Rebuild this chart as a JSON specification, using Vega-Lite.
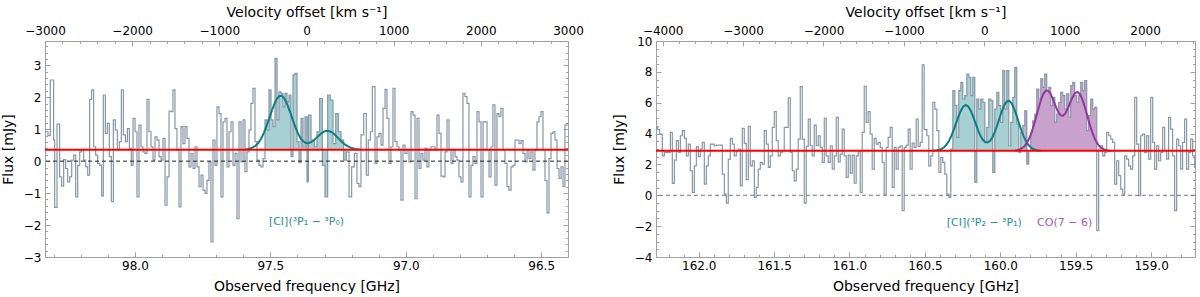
{
"$schema": "https://vega.github.io/schema/vega-lite/v6.json",
"autosize": {"type": "pad"},
"padding": {"left": 1, "top": 5, "right": 2, "bottom": 2},
"background": "white",
"bounds": "flush",
"spacing": 88,
"config": {
  "font": "DejaVu Sans",
  "view": {"stroke": null},
  "axis": {"labelFont": "DejaVu Sans", "labelFontSize": 12, "labelColor": "#000000", "titleFont": "DejaVu Sans", "titleFontSize": 14, "titleFontWeight": "normal", "titleColor": "#000000", "domainColor": "#a0a0a0", "tickColor": "#a0a0a0", "grid": false, "labelOverlap": false, "labelFlush": false, "labelBound": false}
},
"datasets": {
"specL": [
{"v":-3000,"s":0.92},{"v":-2966,"s":0.8},{"v":-2939,"s":2.54},{"v":-2901,"s":0.66},{"v":-2889,"s":-1.45},{"v":-2862,"s":1.16},{"v":-2832,"s":-0.49},{"v":-2809,"s":-0.78},{"v":-2786,"s":0.05},{"v":-2763,"s":-0.23},{"v":-2740,"s":-0.65},{"v":-2717,"s":-0.49},{"v":-2694,"s":0.03},{"v":-2671,"s":0.19},{"v":-2648,"s":-1.12},{"v":-2625,"s":-0.13},{"v":-2602,"s":0.29},{"v":-2579,"s":0.35},{"v":-2556,"s":0.03},{"v":-2533,"s":-0.18},{"v":-2510,"s":-0.44},{"v":-2488,"s":1.93},{"v":-2465,"s":2.23},{"v":-2442,"s":0.45},{"v":-2419,"s":0.19},{"v":-2396,"s":-0.07},{"v":-2373,"s":-0.13},{"v":-2350,"s":-1.09},{"v":-2331,"s":2.07},{"v":-2308,"s":0.87},{"v":-2285,"s":1.18},{"v":-2262,"s":0.14},{"v":-2239,"s":-1.27},{"v":-2216,"s":1.29},{"v":-2193,"s":0.97},{"v":-2170,"s":0.35},{"v":-2147,"s":0.61},{"v":-2124,"s":2.23},{"v":-2101,"s":0.82},{"v":-2078,"s":0.61},{"v":-2055,"s":1.02},{"v":-2032,"s":0.4},{"v":-2010,"s":-0.13},{"v":-1990,"s":1.34},{"v":-1967,"s":0.92},{"v":-1945,"s":-1.12},{"v":-1922,"s":1.13},{"v":-1899,"s":0.45},{"v":-1876,"s":0.29},{"v":-1853,"s":0.24},{"v":-1830,"s":1.93},{"v":-1807,"s":0.92},{"v":-1784,"s":0.45},{"v":-1761,"s":0.03},{"v":-1738,"s":0.76},{"v":-1715,"s":0.66},{"v":-1692,"s":0.14},{"v":-1669,"s":0.03},{"v":-1646,"s":0.71},{"v":-1623,"s":-1.38},{"v":-1600,"s":-0.49},{"v":-1577,"s":1.57},{"v":-1554,"s":1.55},{"v":-1532,"s":2.23},{"v":-1509,"s":1.02},{"v":-1486,"s":0.35},{"v":-1463,"s":-1.43},{"v":-1440,"s":1.08},{"v":-1417,"s":0.55},{"v":-1394,"s":1.08},{"v":-1371,"s":0.71},{"v":-1348,"s":-0.18},{"v":-1325,"s":0.24},{"v":-1302,"s":-0.23},{"v":-1279,"s":0.45},{"v":-1256,"s":-0.18},{"v":-1233,"s":-0.8},{"v":-1210,"s":-0.44},{"v":-1187,"s":-0.91},{"v":-1164,"s":-1.01},{"v":-1142,"s":-0.6},{"v":-1119,"s":-0.02},{"v":-1096,"s":-2.53},{"v":-1073,"s":0.66},{"v":-1050,"s":-0.13},{"v":-1027,"s":1.7},{"v":-1004,"s":1.49},{"v":-981,"s":-1.12},{"v":-958,"s":1.23},{"v":-935,"s":1.34},{"v":-912,"s":-0.18},{"v":-889,"s":0.92},{"v":-866,"s":1.23},{"v":-843,"s":-0.13},{"v":-820,"s":0.24},{"v":-797,"s":-1.8},{"v":-774,"s":1.23},{"v":-751,"s":-0.02},{"v":-728,"s":1.29},{"v":-706,"s":-0.33},{"v":-683,"s":0.29},{"v":-660,"s":0.97},{"v":-637,"s":1.81},{"v":-614,"s":2.28},{"v":-591,"s":0.61},{"v":-568,"s":0.03},{"v":-545,"s":-0.13},{"v":-522,"s":-0.18},{"v":-499,"s":0.08},{"v":-476,"s":1.29},{"v":-453,"s":0.97},{"v":-430,"s":2.23},{"v":-407,"s":1.29},{"v":-384,"s":1.08},{"v":-361,"s":3.22},{"v":-338,"s":1.29},{"v":-316,"s":2.17},{"v":-293,"s":2.12},{"v":-270,"s":1.7},{"v":-247,"s":2.12},{"v":-224,"s":1.86},{"v":-201,"s":2.07},{"v":-178,"s":0.14},{"v":-155,"s":2.7},{"v":-132,"s":2.75},{"v":-109,"s":0.61},{"v":-86,"s":-0.05},{"v":-63,"s":1.34},{"v":-40,"s":0.45},{"v":-17,"s":1.39},{"v":6,"s":-0.65},{"v":21,"s":1.44},{"v":52,"s":0.66},{"v":90,"s":0.45},{"v":120,"s":0.92},{"v":151,"s":1.96},{"v":182,"s":-0.13},{"v":212,"s":-1.12},{"v":243,"s":2.07},{"v":273,"s":1.91},{"v":304,"s":0.55},{"v":335,"s":1.49},{"v":365,"s":0.92},{"v":396,"s":0.66},{"v":426,"s":0.03},{"v":457,"s":0.29},{"v":488,"s":-1.12},{"v":518,"s":-0.18},{"v":549,"s":0.24},{"v":579,"s":-0.7},{"v":602,"s":-0.8},{"v":625,"s":0.82},{"v":656,"s":1.49},{"v":686,"s":-0.44},{"v":709,"s":0.66},{"v":732,"s":0.92},{"v":755,"s":2.33},{"v":786,"s":-0.07},{"v":809,"s":0.76},{"v":832,"s":0.87},{"v":855,"s":0.5},{"v":878,"s":1.65},{"v":901,"s":2.25},{"v":923,"s":1.34},{"v":946,"s":-0.07},{"v":969,"s":0.45},{"v":992,"s":2.28},{"v":1015,"s":0.61},{"v":1038,"s":0.45},{"v":1061,"s":0.35},{"v":1084,"s":-1.22},{"v":1107,"s":0.5},{"v":1130,"s":0.24},{"v":1153,"s":0.35},{"v":1176,"s":-0.02},{"v":1199,"s":1.55},{"v":1222,"s":1.44},{"v":1245,"s":-1.17},{"v":1268,"s":1.34},{"v":1291,"s":-0.23},{"v":1313,"s":0.24},{"v":1336,"s":0.03},{"v":1359,"s":0.4},{"v":1382,"s":-0.18},{"v":1405,"s":0.35},{"v":1428,"s":0.45},{"v":1451,"s":0.45},{"v":1474,"s":0.35},{"v":1497,"s":1.44},{"v":1520,"s":0.87},{"v":1543,"s":-0.47},{"v":1566,"s":-0.49},{"v":1589,"s":0.29},{"v":1612,"s":1.29},{"v":1635,"s":0.35},{"v":1658,"s":-0.07},{"v":1681,"s":0.35},{"v":1704,"s":0.14},{"v":1726,"s":0.03},{"v":1749,"s":-0.49},{"v":1772,"s":-0.65},{"v":1795,"s":2.12},{"v":1818,"s":2.02},{"v":1841,"s":1.81},{"v":1864,"s":-1.12},{"v":1887,"s":-0.13},{"v":1910,"s":0.14},{"v":1933,"s":-0.07},{"v":1956,"s":1.55},{"v":1979,"s":1.23},{"v":2002,"s":-1.12},{"v":2025,"s":1.23},{"v":2048,"s":1.23},{"v":2071,"s":0.35},{"v":2094,"s":-0.49},{"v":2117,"s":0.45},{"v":2139,"s":1.76},{"v":2162,"s":-0.75},{"v":2185,"s":1.49},{"v":2208,"s":1.39},{"v":2231,"s":1.65},{"v":2254,"s":0.35},{"v":2277,"s":-0.07},{"v":2300,"s":-0.8},{"v":2323,"s":-0.91},{"v":2346,"s":-0.18},{"v":2369,"s":-0.13},{"v":2392,"s":0.66},{"v":2415,"s":0.66},{"v":2438,"s":0.55},{"v":2461,"s":0.64},{"v":2484,"s":0.24},{"v":2507,"s":-0.02},{"v":2530,"s":0.35},{"v":2552,"s":0.08},{"v":2575,"s":0.29},{"v":2598,"s":-0.28},{"v":2621,"s":0.35},{"v":2644,"s":1.23},{"v":2667,"s":1.39},{"v":2690,"s":1.55},{"v":2713,"s":0.35},{"v":2736,"s":-0.6},{"v":2759,"s":-1.62},{"v":2782,"s":0.08},{"v":2805,"s":0.87},{"v":2828,"s":0.92},{"v":2851,"s":0.66},{"v":2874,"s":-0.23},{"v":2897,"s":-0.54},{"v":2920,"s":-0.18},{"v":2943,"s":-0.8},{"v":2965,"s":1.13},{"v":2988,"s":1.18},{"v":3000,"s":1.18}
],
"gL": [
{"v":-700,"g":0.37},{"v":-670,"g":0.381},{"v":-640,"g":0.401},{"v":-610,"g":0.436},{"v":-580,"g":0.493},{"v":-550,"g":0.582},{"v":-520,"g":0.708},{"v":-490,"g":0.877},{"v":-460,"g":1.085},{"v":-430,"g":1.32},{"v":-400,"g":1.562},{"v":-370,"g":1.783},{"v":-340,"g":1.95},{"v":-310,"g":2.04},{"v":-280,"g":2.036},{"v":-250,"g":1.942},{"v":-220,"g":1.77},{"v":-190,"g":1.548},{"v":-160,"g":1.308},{"v":-130,"g":1.078},{"v":-100,"g":0.88},{"v":-70,"g":0.727},{"v":-40,"g":0.626},{"v":-10,"g":0.573},{"v":20,"g":0.564},{"v":50,"g":0.591},{"v":80,"g":0.647},{"v":110,"g":0.72},{"v":140,"g":0.798},{"v":170,"g":0.871},{"v":200,"g":0.924},{"v":230,"g":0.949},{"v":260,"g":0.942},{"v":290,"g":0.903},{"v":320,"g":0.839},{"v":350,"g":0.759},{"v":380,"g":0.674},{"v":410,"g":0.594},{"v":440,"g":0.524},{"v":470,"g":0.469},{"v":500,"g":0.429},{"v":530,"g":0.401},{"v":560,"g":0.383},{"v":590,"g":0.372},{"v":620,"g":0.366}
],
"specR": [
{"v":-4083,"s":4.4},{"v":-4062,"s":4.25},{"v":-4037,"s":3.97},{"v":-4004,"s":2.56},{"v":-3979,"s":2.78},{"v":-3904,"s":4.08},{"v":-3880,"s":0.77},{"v":-3855,"s":2.28},{"v":-3830,"s":3.54},{"v":-3805,"s":2.78},{"v":-3780,"s":3.86},{"v":-3755,"s":4.19},{"v":-3730,"s":3.69},{"v":-3706,"s":2.56},{"v":-3681,"s":3.32},{"v":-3656,"s":1.59},{"v":-3631,"s":0.18},{"v":-3606,"s":1.91},{"v":-3581,"s":3.15},{"v":-3556,"s":2.5},{"v":-3532,"s":3.0},{"v":-3507,"s":3.43},{"v":-3482,"s":0.72},{"v":-3457,"s":1.91},{"v":-3432,"s":2.56},{"v":-3407,"s":3.32},{"v":-3358,"s":3.21},{"v":-3333,"s":3.25},{"v":-3258,"s":1.37},{"v":-3233,"s":0.08},{"v":-3208,"s":-0.51},{"v":-3184,"s":2.35},{"v":-3159,"s":3.69},{"v":-3134,"s":3.32},{"v":-3109,"s":2.56},{"v":-3084,"s":2.89},{"v":-3059,"s":3.0},{"v":-3034,"s":0.62},{"v":-3010,"s":4.34},{"v":-2985,"s":3.36},{"v":-2960,"s":1.01},{"v":-2935,"s":4.47},{"v":-2910,"s":1.91},{"v":-2885,"s":2.24},{"v":-2860,"s":-0.14},{"v":-2836,"s":0.51},{"v":-2811,"s":1.7},{"v":-2786,"s":2.13},{"v":-2761,"s":2.02},{"v":-2736,"s":4.19},{"v":-2711,"s":3.32},{"v":-2686,"s":1.81},{"v":-2662,"s":2.56},{"v":-2637,"s":4.4},{"v":-2612,"s":5.42},{"v":-2587,"s":3.54},{"v":-2562,"s":2.56},{"v":-2537,"s":2.78},{"v":-2512,"s":2.89},{"v":-2488,"s":4.4},{"v":-2438,"s":6.31},{"v":-2413,"s":2.78},{"v":-2388,"s":1.59},{"v":-2363,"s":0.94},{"v":-2338,"s":1.7},{"v":-2314,"s":3.64},{"v":-2289,"s":7.04},{"v":-2264,"s":3.64},{"v":-2239,"s":-0.51},{"v":-2214,"s":3.17},{"v":-2189,"s":4.94},{"v":-2164,"s":3.21},{"v":-2140,"s":2.56},{"v":-2115,"s":4.55},{"v":-2090,"s":3.21},{"v":-2065,"s":3.86},{"v":-2040,"s":3.1},{"v":-2015,"s":2.13},{"v":-1990,"s":4.99},{"v":-1966,"s":2.56},{"v":-1941,"s":2.13},{"v":-1916,"s":3.21},{"v":-1891,"s":1.7},{"v":-1866,"s":2.56},{"v":-1841,"s":5.05},{"v":-1816,"s":2.17},{"v":-1792,"s":2.67},{"v":-1767,"s":4.29},{"v":-1742,"s":2.56},{"v":-1717,"s":1.16},{"v":-1692,"s":2.6},{"v":-1667,"s":1.44},{"v":-1642,"s":2.6},{"v":-1618,"s":0.79},{"v":-1593,"s":2.56},{"v":-1568,"s":2.82},{"v":-1543,"s":0.18},{"v":-1518,"s":4.08},{"v":-1493,"s":7.06},{"v":-1468,"s":4.73},{"v":-1444,"s":5.42},{"v":-1419,"s":3.97},{"v":-1394,"s":1.7},{"v":-1369,"s":3.69},{"v":-1344,"s":3.32},{"v":-1319,"s":3.43},{"v":-1294,"s":3.1},{"v":-1270,"s":2.13},{"v":-1245,"s":0.08},{"v":-1220,"s":3.1},{"v":-1195,"s":3.75},{"v":-1170,"s":4.4},{"v":-1145,"s":0.51},{"v":-1120,"s":3.1},{"v":-1096,"s":1.7},{"v":-1071,"s":3.1},{"v":-1046,"s":3.21},{"v":-1021,"s":-1.0},{"v":-996,"s":3.1},{"v":-971,"s":3.25},{"v":-946,"s":4.29},{"v":-922,"s":1.7},{"v":-897,"s":3.38},{"v":-872,"s":3.1},{"v":-847,"s":4.94},{"v":-822,"s":3.17},{"v":-797,"s":3.43},{"v":-772,"s":8.45},{"v":-748,"s":4.25},{"v":-714,"s":3.86},{"v":-690,"s":1.91},{"v":-665,"s":2.56},{"v":-640,"s":6.02},{"v":-615,"s":5.59},{"v":-590,"s":4.19},{"v":-565,"s":1.48},{"v":-540,"s":2.45},{"v":-516,"s":2.13},{"v":-491,"s":1.37},{"v":-466,"s":0.08},{"v":-441,"s":-0.14},{"v":-416,"s":3.0},{"v":-391,"s":6.78},{"v":-366,"s":5.81},{"v":-342,"s":3.75},{"v":-317,"s":6.78},{"v":-292,"s":7.32},{"v":-267,"s":6.24},{"v":-242,"s":6.46},{"v":-217,"s":7.86},{"v":-192,"s":7.65},{"v":-168,"s":6.46},{"v":-143,"s":7.65},{"v":-118,"s":0.83},{"v":-93,"s":6.24},{"v":-68,"s":5.59},{"v":-43,"s":6.24},{"v":-18,"s":6.02},{"v":7,"s":3.43},{"v":31,"s":4.4},{"v":56,"s":6.24},{"v":81,"s":6.13},{"v":106,"s":1.48},{"v":131,"s":5.59},{"v":156,"s":6.67},{"v":181,"s":5.81},{"v":205,"s":4.73},{"v":230,"s":8.08},{"v":255,"s":5.59},{"v":280,"s":8.08},{"v":305,"s":3.21},{"v":330,"s":4.73},{"v":355,"s":6.35},{"v":379,"s":8.3},{"v":404,"s":4.62},{"v":429,"s":2.78},{"v":454,"s":4.08},{"v":479,"s":4.51},{"v":504,"s":5.48},{"v":529,"s":2.02},{"v":553,"s":2.89},{"v":578,"s":4.08},{"v":603,"s":4.83},{"v":628,"s":5.27},{"v":653,"s":6.89},{"v":678,"s":6.24},{"v":703,"s":7.54},{"v":727,"s":7.0},{"v":752,"s":7.86},{"v":777,"s":6.78},{"v":802,"s":7.0},{"v":827,"s":5.81},{"v":852,"s":6.35},{"v":877,"s":4.73},{"v":901,"s":5.27},{"v":926,"s":6.02},{"v":951,"s":6.67},{"v":976,"s":6.46},{"v":1001,"s":5.59},{"v":1026,"s":6.57},{"v":1051,"s":5.05},{"v":1075,"s":7.11},{"v":1100,"s":7.32},{"v":1125,"s":6.46},{"v":1150,"s":6.02},{"v":1175,"s":6.46},{"v":1200,"s":7.32},{"v":1225,"s":6.78},{"v":1249,"s":7.43},{"v":1274,"s":4.19},{"v":1299,"s":5.16},{"v":1324,"s":6.24},{"v":1349,"s":5.59},{"v":1374,"s":5.7},{"v":1399,"s":-2.3},{"v":1423,"s":3.0},{"v":1448,"s":3.21},{"v":1473,"s":2.56},{"v":1498,"s":2.78},{"v":1523,"s":4.08},{"v":1548,"s":3.86},{"v":1573,"s":3.64},{"v":1597,"s":3.43},{"v":1622,"s":0.72},{"v":1647,"s":2.24},{"v":1672,"s":1.27},{"v":1697,"s":0.4},{"v":1722,"s":0.08},{"v":1747,"s":2.56},{"v":1771,"s":2.35},{"v":1796,"s":1.91},{"v":1821,"s":1.7},{"v":1846,"s":2.56},{"v":1871,"s":6.35},{"v":1896,"s":3.32},{"v":1921,"s":-0.03},{"v":1945,"s":3.86},{"v":1970,"s":3.97},{"v":1995,"s":2.78},{"v":2020,"s":3.86},{"v":2045,"s":2.35},{"v":2070,"s":6.35},{"v":2095,"s":3.43},{"v":2119,"s":1.7},{"v":2144,"s":3.21},{"v":2169,"s":2.24},{"v":2194,"s":2.78},{"v":2219,"s":4.4},{"v":2244,"s":2.89},{"v":2269,"s":2.35},{"v":2293,"s":5.05},{"v":2318,"s":4.29},{"v":2343,"s":2.56},{"v":2368,"s":-1.0},{"v":2393,"s":3.64},{"v":2418,"s":3.21},{"v":2443,"s":1.7},{"v":2467,"s":3.43},{"v":2492,"s":4.94},{"v":2517,"s":1.7},{"v":2542,"s":2.78},{"v":2567,"s":3.64},{"v":2592,"s":2.56},{"v":2617,"s":1.81},{"v":2621,"s":1.81}
],
"gTR": [
{"v":-650,"g":2.887},{"v":-620,"g":2.895},{"v":-590,"g":2.913},{"v":-560,"g":2.948},{"v":-530,"g":3.01},{"v":-500,"g":3.116},{"v":-470,"g":3.282},{"v":-440,"g":3.522},{"v":-410,"g":3.844},{"v":-380,"g":4.24},{"v":-350,"g":4.681},{"v":-320,"g":5.122},{"v":-290,"g":5.501},{"v":-260,"g":5.759},{"v":-230,"g":5.85},{"v":-200,"g":5.759},{"v":-170,"g":5.502},{"v":-140,"g":5.126},{"v":-110,"g":4.69},{"v":-80,"g":4.261},{"v":-50,"g":3.889},{"v":-20,"g":3.613},{"v":10,"g":3.454},{"v":40,"g":3.421},{"v":70,"g":3.52},{"v":100,"g":3.747},{"v":130,"g":4.09},{"v":160,"g":4.525},{"v":190,"g":5.006},{"v":220,"g":5.471},{"v":250,"g":5.85},{"v":280,"g":6.08},{"v":310,"g":6.121},{"v":340,"g":5.963},{"v":370,"g":5.635},{"v":400,"g":5.193},{"v":430,"g":4.704},{"v":460,"g":4.231},{"v":490,"g":3.82},{"v":520,"g":3.495},{"v":550,"g":3.257},{"v":580,"g":3.098},{"v":610,"g":2.998},{"v":640,"g":2.94},{"v":670,"g":2.909},{"v":700,"g":2.893}
],
"gPR": [
{"v":380,"g":2.9},{"v":410,"g":2.923},{"v":440,"g":2.968},{"v":470,"g":3.048},{"v":500,"g":3.182},{"v":530,"g":3.391},{"v":560,"g":3.694},{"v":590,"g":4.1},{"v":620,"g":4.602},{"v":650,"g":5.168},{"v":680,"g":5.744},{"v":710,"g":6.254},{"v":740,"g":6.625},{"v":770,"g":6.799},{"v":800,"g":6.756},{"v":830,"g":6.518},{"v":860,"g":6.149},{"v":890,"g":5.74},{"v":920,"g":5.388},{"v":950,"g":5.176},{"v":980,"g":5.152},{"v":1010,"g":5.316},{"v":1040,"g":5.629},{"v":1070,"g":6.016},{"v":1100,"g":6.38},{"v":1130,"g":6.63},{"v":1160,"g":6.698},{"v":1190,"g":6.554},{"v":1220,"g":6.216},{"v":1250,"g":5.733},{"v":1280,"g":5.179},{"v":1310,"g":4.624},{"v":1340,"g":4.126},{"v":1370,"g":3.718},{"v":1400,"g":3.41},{"v":1430,"g":3.196},{"v":1460,"g":3.057},{"v":1490,"g":2.974},{"v":1520,"g":2.926},{"v":1550,"g":2.902},{"v":1580,"g":2.89}
]
},
"hconcat": [
{
  "width": 523, "height": 216,
  "resolve": {"scale": {"x": "independent"}},
  "layer": [
    {
      "resolve": {"axis": {"x": "independent", "y": "independent"}},
      "layer": [
        {"data": {"name": "specL"}, "transform": [{"filter": "datum.v >= -476 && datum.v <= 457"}],
         "mark": {"type": "area", "interpolate": "step-after", "color": "#a6d0d1"},
         "encoding": {
           "x": {"field": "v", "type": "quantitative", "scale": {"domain": [-3000, 3000], "nice": false, "zero": false}, "axis": null},
           "y": {"field": "s", "type": "quantitative", "scale": {"domain": [-3, 3.76], "nice": false, "zero": false}, "axis": null},
           "y2": {"datum": 0.36}}},
        {"data": {"name": "specL"},
         "mark": {"type": "line", "interpolate": "step-after", "color": "#8797a8", "strokeWidth": 1.2},
         "encoding": {
           "x": {"field": "v", "type": "quantitative", "scale": {"domain": [-3000, 3000], "nice": false, "zero": false},
                 "axis": {"orient": "top", "title": "Velocity offset [km s⁻¹]", "titlePadding": 2, "labelPadding": 9, "labelOverlap": false,
                          "values": [-3000,-2800,-2600,-2400,-2200,-2000,-1800,-1600,-1400,-1200,-1000,-800,-600,-400,-200,0,200,400,600,800,1000,1200,1400,1600,1800,2000,2200,2400,2600,2800,3000],
                          "labelExpr": "datum.value % 1000 === 0 ? format(datum.value, 'd') : ''",
                          "tickSize": {"condition": {"test": "datum.value % 1000 === 0", "value": -5}, "value": -2.5}}},
           "y": {"field": "s", "type": "quantitative", "scale": {"domain": [-3, 3.76], "nice": false, "zero": false},
                 "axis": {"orient": "left", "title": "Flux [mJy]", "titlePadding": 8, "labelPadding": 9, "labelOverlap": false,
                          "values": [-3,-2.8,-2.6,-2.4,-2.2,-2,-1.8,-1.6,-1.4,-1.2,-1,-0.8,-0.6,-0.4,-0.2,0,0.2,0.4,0.6,0.8,1,1.2,1.4,1.6,1.8,2,2.2,2.4,2.6,2.8,3,3.2,3.4,3.6],
                          "labelExpr": "abs(datum.value - round(datum.value)) < 0.001 ? format(datum.value, 'd') : ''",
                          "tickSize": {"condition": {"test": "abs(datum.value - round(datum.value)) < 0.001", "value": -5}, "value": -2.5}}}}},
        {"data": {"values": [{}]},
         "mark": {"type": "rule", "color": "#222222", "strokeDash": [4, 3], "strokeWidth": 1},
         "encoding": {"y": {"datum": 0, "axis": null}}},
        {"data": {"name": "gL"},
         "mark": {"type": "line", "color": "#0b7f84", "strokeWidth": 2},
         "encoding": {
           "x": {"field": "v", "type": "quantitative", "axis": null},
           "y": {"field": "g", "type": "quantitative",
                 "axis": {"orient": "right", "title": null, "labels": false,
                          "values": [-3,-2.8,-2.6,-2.4,-2.2,-2,-1.8,-1.6,-1.4,-1.2,-1,-0.8,-0.6,-0.4,-0.2,0,0.2,0.4,0.6,0.8,1,1.2,1.4,1.6,1.8,2,2.2,2.4,2.6,2.8,3,3.2,3.4,3.6],
                          "tickSize": {"condition": {"test": "abs(datum.value - round(datum.value)) < 0.001", "value": -5}, "value": -2.5}}}}},
        {"data": {"values": [{}]},
         "mark": {"type": "rule", "color": "#ff0000", "strokeWidth": 2},
         "encoding": {"y": {"datum": 0.36, "axis": null}}},
        {"data": {"values": [{"v": 0, "y": -1.91, "t": "[CI](³P₁ − ³P₀)"}]},
         "mark": {"type": "text", "fontSize": 11, "color": "#2a8f90", "font": "DejaVu Sans"},
         "encoding": {
           "x": {"field": "v", "type": "quantitative", "axis": null},
           "y": {"field": "y", "type": "quantitative", "axis": null},
           "text": {"field": "t"}}}
      ]
    },
    {"data": {"values": [{"f": 96.401}, {"f": 98.332}]},
     "mark": {"type": "point", "opacity": 0},
     "encoding": {
       "x": {"field": "f", "type": "quantitative", "scale": {"domain": [96.401, 98.332], "reverse": true, "nice": false, "zero": false},
             "axis": {"orient": "bottom", "title": "Observed frequency [GHz]", "titlePadding": 6, "labelPadding": 8, "labelOverlap": false,
                      "values": [96.5,96.6,96.7,96.8,96.9,97.0,97.1,97.2,97.3,97.4,97.5,97.6,97.7,97.8,97.9,98.0,98.1,98.2,98.3],
                      "labelExpr": "abs(datum.value*2 - round(datum.value*2)) < 0.001 ? format(datum.value, '.1f') : ''",
                      "tickSize": {"condition": {"test": "abs(datum.value*2 - round(datum.value*2)) < 0.001", "value": -5}, "value": -2.5}}}}}
  ]
},
{
  "width": 539, "height": 216,
  "resolve": {"scale": {"x": "independent"}},
  "layer": [
    {
      "resolve": {"axis": {"x": "independent", "y": "independent"}},
      "layer": [
        {"data": {"name": "specR"}, "transform": [{"filter": "datum.v >= -416 && datum.v <= 529"}],
         "mark": {"type": "area", "interpolate": "step-after", "color": "#a6d0d1"},
         "encoding": {
           "x": {"field": "v", "type": "quantitative", "scale": {"domain": [-4083, 2621], "nice": false, "zero": false}, "axis": null},
           "y": {"field": "s", "type": "quantitative", "scale": {"domain": [-4, 10], "nice": false, "zero": false}, "axis": null},
           "y2": {"datum": 2.88}}},
        {"data": {"name": "specR"}, "transform": [{"filter": "datum.v >= 504 && datum.v <= 1399"}],
         "mark": {"type": "area", "interpolate": "step-after", "color": "#c8a2cd"},
         "encoding": {
           "x": {"field": "v", "type": "quantitative", "axis": null},
           "y": {"field": "s", "type": "quantitative", "axis": null},
           "y2": {"datum": 2.88}}},
        {"data": {"name": "specR"},
         "mark": {"type": "line", "interpolate": "step-after", "color": "#8797a8", "strokeWidth": 1.2},
         "encoding": {
           "x": {"field": "v", "type": "quantitative", "scale": {"domain": [-4083, 2621], "nice": false, "zero": false},
                 "axis": {"orient": "top", "title": "Velocity offset [km s⁻¹]", "titlePadding": 2, "labelPadding": 9, "labelOverlap": false,
                          "values": [-4000,-3800,-3600,-3400,-3200,-3000,-2800,-2600,-2400,-2200,-2000,-1800,-1600,-1400,-1200,-1000,-800,-600,-400,-200,0,200,400,600,800,1000,1200,1400,1600,1800,2000,2200,2400,2600],
                          "labelExpr": "datum.value % 1000 === 0 ? format(datum.value, 'd') : ''",
                          "tickSize": {"condition": {"test": "datum.value % 1000 === 0", "value": -5}, "value": -2.5}}},
           "y": {"field": "s", "type": "quantitative", "scale": {"domain": [-4, 10], "nice": false, "zero": false},
                 "axis": {"orient": "left", "title": "Flux [mJy]", "titlePadding": 8, "labelPadding": 9, "labelOverlap": false,
                          "values": [-4,-3.5,-3,-2.5,-2,-1.5,-1,-0.5,0,0.5,1,1.5,2,2.5,3,3.5,4,4.5,5,5.5,6,6.5,7,7.5,8,8.5,9,9.5,10],
                          "labelExpr": "datum.value % 2 === 0 ? format(datum.value, 'd') : ''",
                          "tickSize": {"condition": {"test": "datum.value % 2 === 0", "value": -5}, "value": -2.5}}}}},
        {"data": {"values": [{}]},
         "mark": {"type": "rule", "color": "#777777", "strokeDash": [4, 3], "strokeWidth": 1},
         "encoding": {"y": {"datum": 0, "axis": null}}},
        {"data": {"name": "gTR"},
         "mark": {"type": "line", "color": "#0b7f84", "strokeWidth": 2},
         "encoding": {
           "x": {"field": "v", "type": "quantitative", "axis": null},
           "y": {"field": "g", "type": "quantitative",
                 "axis": {"orient": "right", "title": null, "labels": false,
                          "values": [-4,-3.5,-3,-2.5,-2,-1.5,-1,-0.5,0,0.5,1,1.5,2,2.5,3,3.5,4,4.5,5,5.5,6,6.5,7,7.5,8,8.5,9,9.5,10],
                          "tickSize": {"condition": {"test": "datum.value % 2 === 0", "value": -5}, "value": -2.5}}}}},
        {"data": {"name": "gPR"},
         "mark": {"type": "line", "color": "#93379c", "strokeWidth": 2},
         "encoding": {
           "x": {"field": "v", "type": "quantitative", "axis": null},
           "y": {"field": "g", "type": "quantitative", "axis": null}}},
        {"data": {"values": [{}]},
         "mark": {"type": "rule", "color": "#ff0000", "strokeWidth": 2},
         "encoding": {"y": {"datum": 2.88, "axis": null}}},
        {"data": {"values": [{"v": 0, "y": -1.77, "t": "[CI](³P₂ − ³P₁)", "c": "ci"}, {"v": 1000, "y": -1.77, "t": "CO(7 − 6)", "c": "co"}]},
         "mark": {"type": "text", "fontSize": 11, "font": "DejaVu Sans"},
         "encoding": {
           "x": {"field": "v", "type": "quantitative", "axis": null},
           "y": {"field": "y", "type": "quantitative", "axis": null},
           "text": {"field": "t"},
           "color": {"field": "c", "type": "nominal", "scale": {"domain": ["ci", "co"], "range": ["#2a8f90", "#a55bae"]}, "legend": null}}}
      ]
    },
    {"data": {"values": [{"f": 158.709}, {"f": 162.283}]},
     "mark": {"type": "point", "opacity": 0},
     "encoding": {
       "x": {"field": "f", "type": "quantitative", "scale": {"domain": [158.709, 162.283], "reverse": true, "nice": false, "zero": false},
             "axis": {"orient": "bottom", "title": "Observed frequency [GHz]", "titlePadding": 6, "labelPadding": 8, "labelOverlap": false,
                      "values": [158.8,158.9,159.0,159.1,159.2,159.3,159.4,159.5,159.6,159.7,159.8,159.9,160.0,160.1,160.2,160.3,160.4,160.5,160.6,160.7,160.8,160.9,161.0,161.1,161.2,161.3,161.4,161.5,161.6,161.7,161.8,161.9,162.0,162.1,162.2],
                      "labelExpr": "abs(datum.value*2 - round(datum.value*2)) < 0.001 ? format(datum.value, '.1f') : ''",
                      "tickSize": {"condition": {"test": "abs(datum.value*2 - round(datum.value*2)) < 0.001", "value": -5}, "value": -2.5}}}}}
  ]
}
]
}
